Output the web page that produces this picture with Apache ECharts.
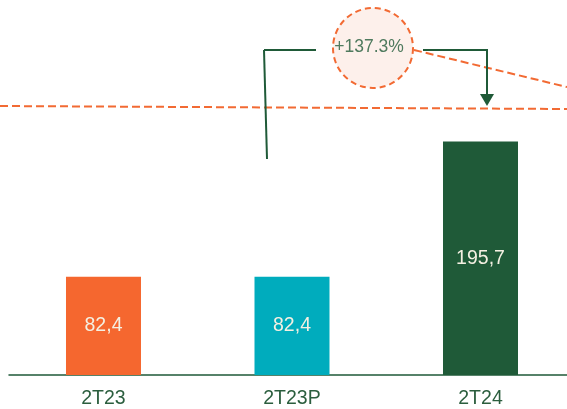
<!DOCTYPE html>
<html>
<head>
<meta charset="utf-8">
<script src="https://cdn.jsdelivr.net/npm/echarts@6/dist/echarts.min.js"></script>
<style>
html,body{margin:0;padding:0;background:#fff;}
#c{width:567px;height:409px;}
</style>
</head>
<body>
<div id="c"></div>
<script>
const categories = ['2T23', '2T23P', '2T24'];
const values = [82.4, 82.4, 195.7];
const growthLabel = '+137.3%';

const barColors = ['#F5672F', '#00ACBD', '#1F5A38'];
const green = '#1F5A38';
const orange = '#F26A33';

const chart = echarts.init(document.getElementById('c'), null, {renderer: 'canvas'});
const fmt = v => v.toFixed(1).replace('.', ',');
const idx = categories.map((c, i) => i);

chart.setOption({
  animation: false,
  backgroundColor: '#ffffff',
  grid: {left: 9, right: 0, top: 17, height: 360, containLabel: false},
  xAxis: {
    type: 'value',
    min: -0.5013,
    max: 2.4589,
    splitLine: {show: false},
    axisLine: {show: true, onZero: false, lineStyle: {color: green, width: 1.5}},
    axisTick: {show: false},
    axisLabel: {
      customValues: idx,
      formatter: v => categories[Math.round(v)] || '',
      color: '#2B5E3E', fontSize: 19.5, fontFamily: 'Liberation Sans, Arial, sans-serif', margin: 14
    }
  },
  yAxis: {
    type: 'value', min: 0, max: 300, show: false,
    splitLine: {show: false}
  },
  series: [{
    type: 'bar',
    barWidth: 75,
    data: values.map((v, i) => ({value: [i, v], itemStyle: {color: barColors[i]}})),
    label: {
      show: true, position: 'inside',
      color: '#F4F0E2', fontSize: 19.5, fontFamily: 'Liberation Sans, Arial, sans-serif',
      formatter: p => fmt(p.value[1])
    }
  }],
  graphic: [
    {type: 'line', shape: {x1: 0, y1: 106, x2: 567, y2: 109}, style: {stroke: orange, lineWidth: 2, lineDash: [8, 4]}, z: 10},
    {type: 'line', shape: {x1: 414, y1: 50, x2: 567, y2: 87}, style: {stroke: orange, lineWidth: 2, lineDash: [8, 4]}, z: 10},
    {type: 'line', shape: {x1: 264, y1: 50, x2: 267, y2: 159}, style: {stroke: green, lineWidth: 2}, z: 11},
    {type: 'line', shape: {x1: 264, y1: 50, x2: 316, y2: 50}, style: {stroke: green, lineWidth: 2}, z: 11},
    {type: 'polyline', shape: {points: [[423, 50], [487, 50], [487, 96]]}, style: {stroke: green, lineWidth: 2, fill: null}, z: 11},
    {type: 'polygon', shape: {points: [[480, 94], [494, 94], [487, 106]]}, style: {fill: green}, z: 11},
    {type: 'circle', shape: {cx: 373, cy: 48, r: 40}, style: {fill: '#FDF0EB', stroke: orange, lineWidth: 2, lineDash: [6, 4]}, z: 12},
    {type: 'text', x: 369, y: 47, style: {text: growthLabel, fill: '#4F7A5E', font: '17.5px "Liberation Sans", Arial, sans-serif', textAlign: 'center', textVerticalAlign: 'middle'}, z: 13}
  ]
});
</script>
</body>
</html>
